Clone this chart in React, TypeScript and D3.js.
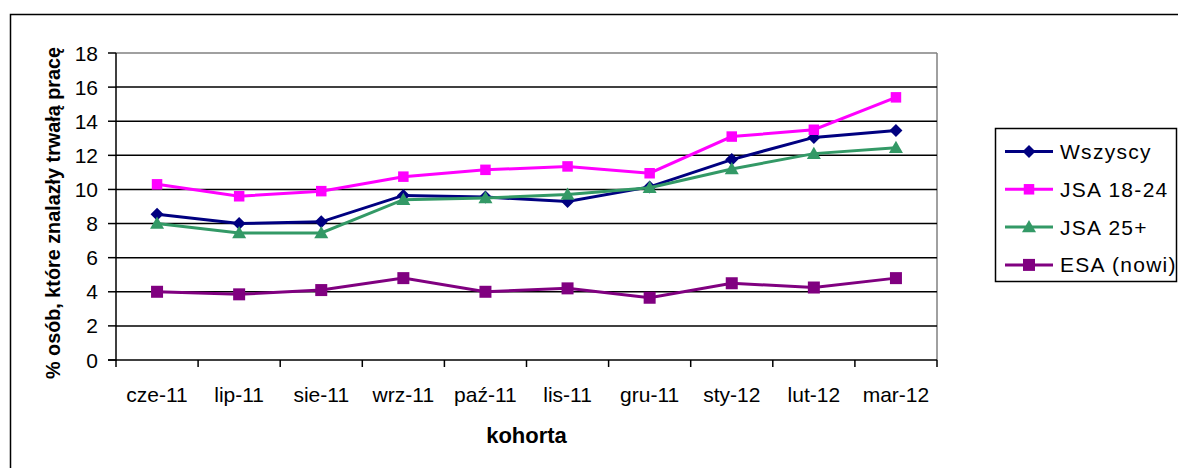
import React from "react";
import * as d3 from "d3";

const categories = ["cze-11", "lip-11", "sie-11", "wrz-11", "paź-11", "lis-11", "gru-11", "sty-12", "lut-12", "mar-12"];
const wszyscy = [8.55, 8.0, 8.1, 9.65, 9.55, 9.3, 10.15, 11.75, 13.05, 13.45];
const jsa1824 = [10.3, 9.6, 9.9, 10.75, 11.15, 11.35, 10.95, 13.1, 13.5, 15.4];
const jsa25 = [8.0, 7.45, 7.45, 9.4, 9.5, 9.7, 10.1, 11.2, 12.1, 12.45];
const esa = [4.0, 3.85, 4.1, 4.8, 4.0, 4.2, 3.65, 4.5, 4.25, 4.8];
const yTicks = [0, 2, 4, 6, 8, 10, 12, 14, 16, 18];

const series = [
  { name: "Wszyscy", values: wszyscy, color: "#000080", marker: "diamond" },
  { name: "JSA 18-24", values: jsa1824, color: "#FF00FF", marker: "square" },
  { name: "JSA 25+", values: jsa25, color: "#339966", marker: "triangle" },
  { name: "ESA (nowi)", values: esa, color: "#800080", marker: "bigsquare" },
];

const W = 1178;
const H = 468;
const left = 116;
const right = 937;
const top = 53;
const bottom = 360;
const font = "Arial, 'Liberation Sans', sans-serif";

function Marker({ type, x, y, color }: { type: string; x: number; y: number; color: string }) {
  if (type === "diamond") {
    const r = 6.5;
    return <path d={`M${x},${y - r}L${x + r},${y}L${x},${y + r}L${x - r},${y}Z`} fill={color} />;
  }
  if (type === "triangle") {
    const r = 7;
    return <path d={`M${x},${y - r}L${x + r},${y + r * 0.75}L${x - r},${y + r * 0.75}Z`} fill={color} />;
  }
  const s = type === "bigsquare" ? 12 : 10.5;
  return <rect x={x - s / 2} y={y - s / 2} width={s} height={s} fill={color} />;
}

export default function App() {
  const x = d3.scaleBand<string>().domain(categories).range([left, right]);
  const y = d3.scaleLinear().domain([0, 18]).range([bottom, top]);
  const cx = (c: string) => (x(c) as number) + x.bandwidth() / 2;
  const line = d3
    .line<number>()
    .x((_, i) => cx(categories[i]))
    .y((d) => y(d));

  const tickEdges = categories.map((c) => x(c) as number).concat([right]);

  return (
    <svg
      width={W}
      height={H}
      style={{ position: "absolute", left: 0, top: 0, background: "#fff" }}
      fontFamily={font}
    >
      <rect x={10.5} y={14.5} width={W + 20} height={H + 20} fill="none" stroke="#000" strokeWidth={1.5} />

      {/* plot frame */}
      <line x1={left} x2={right} y1={top} y2={top} stroke="#808080" strokeWidth={1.5} />
      <line x1={right} x2={right} y1={top} y2={bottom} stroke="#808080" strokeWidth={1.5} />

      {yTicks.map((t) => (
        <g key={t}>
          {t > 0 && t < 18 && <line x1={left} x2={right} y1={y(t)} y2={y(t)} stroke="#000" strokeWidth={1.5} />}
          <line x1={108} x2={left} y1={y(t)} y2={y(t)} stroke="#000" strokeWidth={1.5} />
          <text x={98} y={y(t)} dy="0.36em" textAnchor="end" fontSize={21} fill="#000">
            {t}
          </text>
        </g>
      ))}

      <line x1={left} x2={left} y1={top} y2={bottom + 1} stroke="#000" strokeWidth={1.5} />
      <line x1={left - 8} x2={right} y1={bottom} y2={bottom} stroke="#000" strokeWidth={1.5} />
      {tickEdges.map((e, i) => (
        <line key={i} x1={e} x2={e} y1={bottom} y2={bottom + 7} stroke="#000" strokeWidth={1.5} />
      ))}
      {categories.map((c) => (
        <text key={c} x={cx(c)} y={402} textAnchor="middle" fontSize={21} fill="#000">
          {c}
        </text>
      ))}

      <text x={(left + right) / 2} y={443} textAnchor="middle" fontSize={22} fontWeight="bold" fill="#000">
        kohorta
      </text>
      <text
        transform={`translate(60,213) rotate(-90)`}
        textAnchor="middle"
        fontSize={19.8}
        fontWeight="bold"
        fill="#000"
      >
        % osób, które znalazły trwałą pracę
      </text>

      {series.map((s) => (
        <g key={s.name}>
          <path d={line(s.values) || ""} fill="none" stroke={s.color} strokeWidth={3} />
          {s.values.map((v, i) => (
            <Marker key={i} type={s.marker} x={cx(categories[i])} y={y(v)} color={s.color} />
          ))}
        </g>
      ))}

      {/* legend */}
      <rect x={995.5} y={128.5} width={181} height={153} fill="#fff" stroke="#000" strokeWidth={1.5} />
      {series.map((s, i) => {
        const ly = 151.5 + i * 37.8;
        return (
          <g key={s.name}>
            <line x1={1005} x2={1053} y1={ly} y2={ly} stroke={s.color} strokeWidth={3} />
            <Marker type={s.marker} x={1029} y={ly} color={s.color} />
            <text x={1060} y={ly} dy="0.36em" fontSize={21} letterSpacing={1.3} fill="#000">
              {s.name}
            </text>
          </g>
        );
      })}
    </svg>
  );
}
